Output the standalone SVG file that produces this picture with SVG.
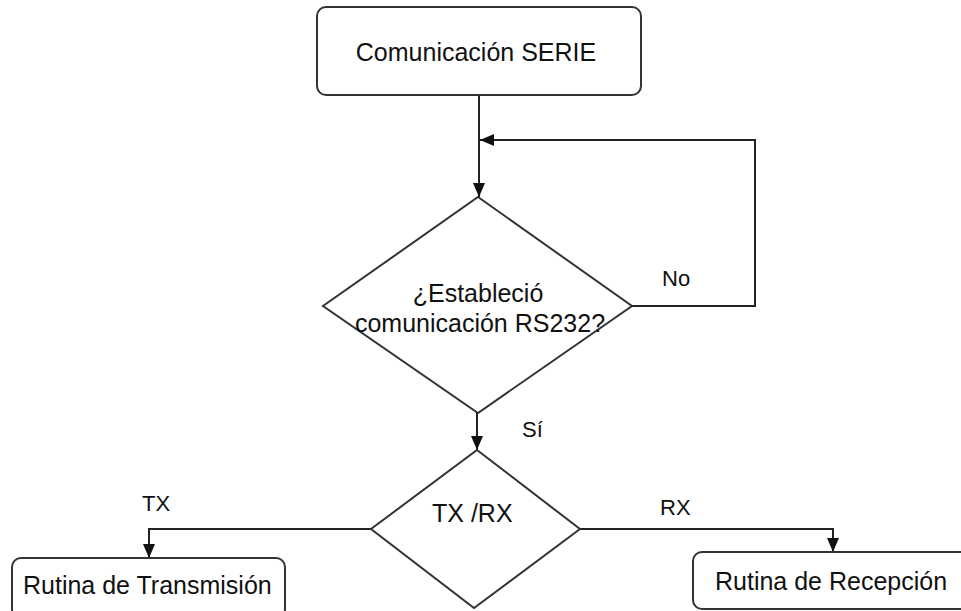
<svg xmlns="http://www.w3.org/2000/svg" width="961" height="611" viewBox="0 0 961 611">
  <defs>
    <marker id="arrow" viewBox="0 0 14 12" refX="14" refY="6" markerWidth="14" markerHeight="12" markerUnits="userSpaceOnUse" orient="auto">
      <path d="M0,0 L14,6 L0,12 Z" fill="#111"/>
    </marker>
    <style>
      .shape { fill: #ffffff; stroke: #333333; stroke-width: 2; }
      .edge { fill: none; stroke: #222222; stroke-width: 2; marker-end: url(#arrow); }
      .label { font-family: "Liberation Sans", Arial, sans-serif; font-size: 25px; fill: #111111; }
      .small { font-size: 22px; }
      .mid { text-anchor: middle; }
    </style>
  </defs>
  <rect width="961" height="611" fill="#ffffff"/>

  <!-- connectors -->
  <g id="connectors">
    <path class="edge" d="M479,95 L479,197"/>
    <path class="edge" d="M632,306 L755,306 L755,140 L480,140"/>
    <path class="edge" d="M477,413 L477,450"/>
    <path class="edge" d="M371,529 L149,529 L149,558"/>
    <path class="edge" d="M580,529 L833,529 L833,552"/>
    <text class="label small" x="662" y="286">No</text>
    <text class="label small" x="522" y="437">Sí</text>
    <text class="label small" x="142" y="511">TX</text>
    <text class="label small" x="660" y="515">RX</text>
  </g>

  <!-- start: serial communication -->
  <g id="start">
    <rect class="shape" x="317" y="7" width="324" height="88" rx="9" ry="9"/>
    <text class="label mid" x="476" y="61">Comunicación SERIE</text>
  </g>

  <!-- decision: link established? -->
  <g id="check-link">
    <polygon class="shape" points="478,197 632,306 478,413 323,306"/>
    <text class="label mid" x="478" y="302">¿Estableció</text>
    <text class="label mid" x="480" y="332">comunicación RS232?</text>
  </g>

  <!-- decision: transmit or receive -->
  <g id="tx-rx">
    <polygon class="shape" points="477,450 580,529 474,608 371,529"/>
    <text class="label" x="432" y="522">TX /RX</text>
  </g>

  <!-- transmit routine -->
  <g id="tx-routine">
    <rect class="shape" x="12" y="558" width="273" height="60" rx="9" ry="9"/>
    <text class="label" x="23" y="594">Rutina de Transmisión</text>
  </g>

  <!-- receive routine -->
  <g id="rx-routine">
    <rect class="shape" x="693" y="552" width="280" height="57" rx="9" ry="9"/>
    <text class="label" x="715" y="590">Rutina de Recepción</text>
  </g>
</svg>
